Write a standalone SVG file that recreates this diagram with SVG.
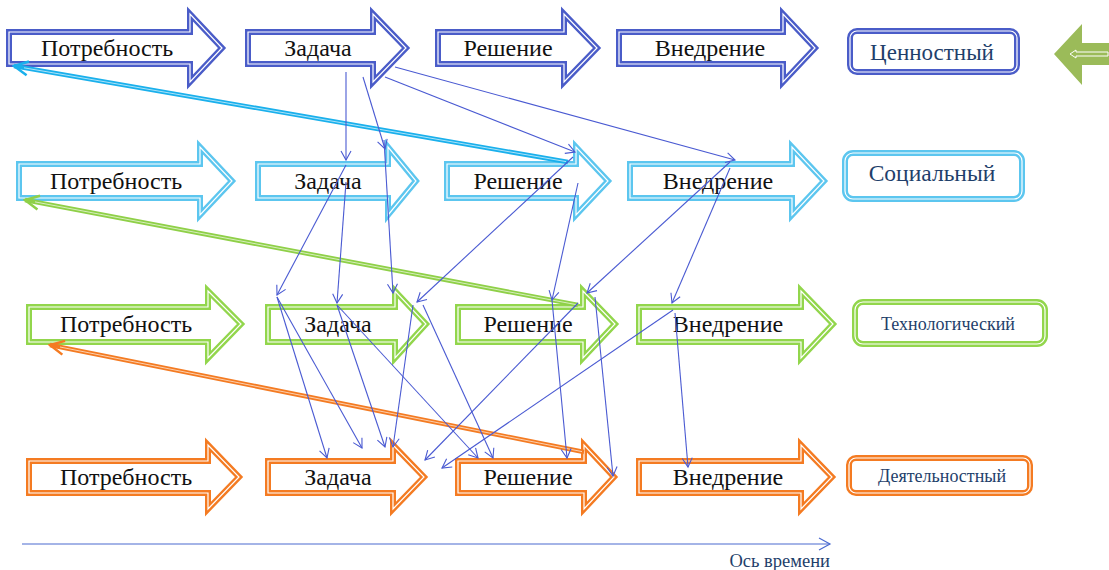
<svg xmlns="http://www.w3.org/2000/svg" width="1109" height="570" viewBox="0 0 1109 570">
<style>
.lbl{font-family:'Liberation Serif',serif;font-size:24px;fill:#111;text-anchor:middle}
.cat{font-family:'Liberation Serif',serif;fill:#1f3f6b;text-anchor:middle}
.in{fill:none;stroke:#fff;stroke-width:1.2}
.r1{fill:#fff;stroke:#4a5cc8;stroke-width:6;stroke-linejoin:miter}
.r2{fill:#fff;stroke:#5cc6ef;stroke-width:6;stroke-linejoin:miter}
.r3{fill:#fff;stroke:#92d64c;stroke-width:6;stroke-linejoin:miter}
.r4{fill:#fff;stroke:#f47b22;stroke-width:6;stroke-linejoin:miter}
.thin{fill:none;stroke:#4a5ad2;stroke-width:1.1;marker-end:url(#mt)}
.wc{fill:none;stroke:#fff;stroke-width:0.8;stroke-opacity:0.8}
</style>
<defs>
<marker id="mt" markerUnits="userSpaceOnUse" markerWidth="12" markerHeight="12" refX="10" refY="6" orient="auto"><path d="M1,1 L10,6 L1,11" fill="none" stroke="#4a5ad2" stroke-width="1.1"/></marker>
<marker id="mc" markerUnits="userSpaceOnUse" markerWidth="18" markerHeight="18" refX="16" refY="9" orient="auto"><path d="M2,2 L16,9 L2,16" fill="none" stroke="#1ab0ec" stroke-width="2.5"/></marker>
<marker id="mg" markerUnits="userSpaceOnUse" markerWidth="18" markerHeight="18" refX="16" refY="9" orient="auto"><path d="M2,2 L16,9 L2,16" fill="none" stroke="#8fd048" stroke-width="2.5"/></marker>
<marker id="mo" markerUnits="userSpaceOnUse" markerWidth="18" markerHeight="18" refX="16" refY="9" orient="auto"><path d="M2,2 L16,9 L2,16" fill="none" stroke="#f47b22" stroke-width="2.5"/></marker>
<marker id="ma" markerUnits="userSpaceOnUse" markerWidth="14" markerHeight="14" refX="12" refY="7" orient="auto"><path d="M1,1 L12,7 L1,13" fill="none" stroke="#4a6ad0" stroke-width="1.2"/></marker>
</defs>

<!-- Row 1 -->
<g id="n1a"><path class="r1" d="M9,32 L190,32 L190,14 L222,48 L190,82 L190,64 L9,64 Z"/><path class="in" d="M9,32 L190,32 L190,14 L222,48 L190,82 L190,64 L9,64 Z"/><text class="lbl" x="107" y="56">Потребность</text></g>
<g id="n1b"><path class="r1" d="M248,32 L373,32 L373,14 L406,48 L373,82 L373,64 L248,64 Z"/><path class="in" d="M248,32 L373,32 L373,14 L406,48 L373,82 L373,64 L248,64 Z"/><text class="lbl" x="318" y="56">Задача</text></g>
<g id="n1c"><path class="r1" d="M438,32 L564,32 L564,14 L597,48 L564,82 L564,64 L438,64 Z"/><path class="in" d="M438,32 L564,32 L564,14 L597,48 L564,82 L564,64 L438,64 Z"/><text class="lbl" x="508" y="56">Решение</text></g>
<g id="n1d"><path class="r1" d="M619,32 L783,32 L783,14 L815,48 L783,82 L783,64 L619,64 Z"/><path class="in" d="M619,32 L783,32 L783,14 L815,48 L783,82 L783,64 L619,64 Z"/><text class="lbl" x="710" y="56">Внедрение</text></g>
<g id="n1e"><rect class="r1" x="850" y="31" width="167" height="41" rx="7"/><rect class="in" x="850" y="31" width="167" height="41" rx="7"/><text class="cat" x="932" y="60" font-size="23">Ценностный</text></g>
<g id="ng"><path d="M1054,54 L1082,24 L1082,43 L1112,43 L1112,65 L1082,65 L1082,85 Z" fill="#9bbb59"/><path d="M1070,54 L1076,50 L1076,52 L1108,52 L1108,56 L1076,56 L1076,58 Z" fill="none" stroke="#fff" stroke-width="1"/></g>

<!-- Row 2 -->
<g id="n2a"><path class="r2" d="M19,164 L200,164 L200,147 L232,181 L200,215 L200,198 L19,198 Z"/><path class="in" d="M19,164 L200,164 L200,147 L232,181 L200,215 L200,198 L19,198 Z"/><text class="lbl" x="116" y="189">Потребность</text></g>
<g id="n2b"><path class="r2" d="M258,164 L388,164 L388,147 L416,181 L388,215 L388,198 L258,198 Z"/><path class="in" d="M258,164 L388,164 L388,147 L416,181 L388,215 L388,198 L258,198 Z"/><text class="lbl" x="328" y="189">Задача</text></g>
<g id="n2c"><path class="r2" d="M447,164 L576,164 L576,147 L608,181 L576,215 L576,198 L447,198 Z"/><path class="in" d="M447,164 L576,164 L576,147 L608,181 L576,215 L576,198 L447,198 Z"/><text class="lbl" x="518" y="189">Решение</text></g>
<g id="n2d"><path class="r2" d="M630,164 L792,164 L792,147 L824,181 L792,215 L792,198 L630,198 Z"/><path class="in" d="M630,164 L792,164 L792,147 L824,181 L792,215 L792,198 L630,198 Z"/><text class="lbl" x="718" y="189">Внедрение</text></g>
<g id="n2e"><rect class="r2" x="845" y="153" width="177" height="46" rx="8"/><rect class="in" x="845" y="153" width="177" height="46" rx="8"/><text class="cat" x="932" y="181" font-size="23.5">Социальный</text></g>

<!-- Row 3 -->
<g id="n3a"><path class="r3" d="M29,307 L208,307 L208,291 L241,324 L208,358 L208,342 L29,342 Z"/><path class="in" d="M29,307 L208,307 L208,291 L241,324 L208,358 L208,342 L29,342 Z"/><text class="lbl" x="126" y="332">Потребность</text></g>
<g id="n3b"><path class="r3" d="M268,307 L395,307 L395,291 L426,324 L395,358 L395,342 L268,342 Z"/><path class="in" d="M268,307 L395,307 L395,291 L426,324 L395,358 L395,342 L268,342 Z"/><text class="lbl" x="338" y="332">Задача</text></g>
<g id="n3c"><path class="r3" d="M458,307 L583,307 L583,291 L615,324 L583,358 L583,342 L458,342 Z"/><path class="in" d="M458,307 L583,307 L583,291 L615,324 L583,358 L583,342 L458,342 Z"/><text class="lbl" x="528" y="332">Решение</text></g>
<g id="n3d"><path class="r3" d="M639,307 L801,307 L801,291 L833,324 L801,358 L801,342 L639,342 Z"/><path class="in" d="M639,307 L801,307 L801,291 L833,324 L801,358 L801,342 L639,342 Z"/><text class="lbl" x="728" y="332">Внедрение</text></g>
<g id="n3e"><rect class="r3" x="855" y="302" width="190" height="42" rx="8"/><rect class="in" x="855" y="302" width="190" height="42" rx="8"/><text class="cat" x="948" y="330" font-size="18">Технологический</text></g>

<!-- Row 4 -->
<g id="n4a"><path class="r4" d="M29,461 L208,461 L208,445 L239,477 L208,509 L208,493 L29,493 Z"/><path class="in" d="M29,461 L208,461 L208,445 L239,477 L208,509 L208,493 L29,493 Z"/><text class="lbl" x="126" y="485">Потребность</text></g>
<g id="n4b"><path class="r4" d="M268,461 L393,461 L393,445 L424,477 L393,509 L393,493 L268,493 Z"/><path class="in" d="M268,461 L393,461 L393,445 L424,477 L393,509 L393,493 L268,493 Z"/><text class="lbl" x="338" y="485">Задача</text></g>
<g id="n4c"><path class="r4" d="M458,461 L584,461 L584,445 L614,477 L584,509 L584,493 L458,493 Z"/><path class="in" d="M458,461 L584,461 L584,445 L614,477 L584,509 L584,493 L458,493 Z"/><text class="lbl" x="528" y="485">Решение</text></g>
<g id="n4d"><path class="r4" d="M639,461 L801,461 L801,445 L832,477 L801,509 L801,493 L639,493 Z"/><path class="in" d="M639,461 L801,461 L801,445 L832,477 L801,509 L801,493 L639,493 Z"/><text class="lbl" x="728" y="485">Внедрение</text></g>
<g id="n4e"><rect class="r4" x="849" y="458" width="181" height="35" rx="7"/><rect class="in" x="849" y="458" width="181" height="35" rx="7"/><text class="cat" x="942" y="482" font-size="18">Деятельностный</text></g>

<!-- Connectors -->
<g id="connectors">
<line x1="568" y1="162" x2="14" y2="66" stroke="#1ab0ec" stroke-width="4.5" marker-end="url(#mc)"/>
<line class="wc" x1="566" y1="161.6" x2="24" y2="67.8"/>
<line x1="578" y1="305" x2="25" y2="200" stroke="#8fd048" stroke-width="4.5" marker-end="url(#mg)"/>
<line class="wc" x1="576" y1="304.6" x2="35" y2="201.9"/>
<line x1="584" y1="452" x2="50" y2="345" stroke="#f47b22" stroke-width="4.5" marker-end="url(#mo)"/>
<line class="wc" x1="582" y1="451.6" x2="60" y2="347"/>

<line class="thin" x1="346" y1="72" x2="346" y2="160"/>
<line class="thin" x1="363" y1="77" x2="385" y2="149"/>
<line class="thin" x1="385" y1="77" x2="575" y2="152"/>
<line class="thin" x1="395" y1="67" x2="735" y2="160"/>
<line class="thin" x1="346" y1="165" x2="277" y2="295"/>
<line class="thin" x1="346" y1="182" x2="337" y2="303"/>
<line class="thin" x1="384" y1="140" x2="393" y2="293"/>
<line class="thin" x1="573" y1="157" x2="417" y2="302"/>
<line class="thin" x1="578" y1="183" x2="552" y2="300"/>
<line class="thin" x1="730" y1="162" x2="587" y2="293"/>
<line class="thin" x1="730" y1="168" x2="672" y2="303"/>
<line class="thin" x1="277" y1="297" x2="327" y2="458"/>
<line class="thin" x1="277" y1="297" x2="362" y2="448"/>
<line class="thin" x1="337" y1="305" x2="385" y2="447"/>
<line class="thin" x1="337" y1="305" x2="478" y2="458"/>
<line class="thin" x1="413" y1="305" x2="393" y2="447"/>
<line class="thin" x1="423" y1="305" x2="493" y2="458"/>
<line class="thin" x1="552" y1="300" x2="567" y2="458"/>
<line class="thin" x1="578" y1="303" x2="425" y2="460"/>
<line class="thin" x1="595" y1="297" x2="613" y2="476"/>
<line class="thin" x1="673" y1="310" x2="442" y2="468"/>
<line class="thin" x1="675" y1="313" x2="688" y2="467"/>

<line x1="22" y1="544" x2="830" y2="544" stroke="#4a6ad0" stroke-width="1.2" marker-end="url(#ma)"/>
</g>
<text x="830" y="567" font-family="'Liberation Serif', serif" font-size="18.5" fill="#1f3f6b" text-anchor="end">Ось времени</text>
</svg>
